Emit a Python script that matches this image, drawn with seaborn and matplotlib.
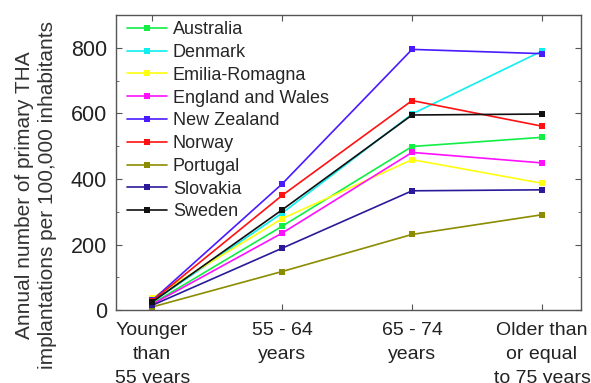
import matplotlib
matplotlib.use("Agg")
import matplotlib.pyplot as plt
from matplotlib.ticker import MultipleLocator
import seaborn as sns
import pandas as pd

age_groups = ["Younger\nthan\n55 years", "55 - 64\nyears", "65 - 74\nyears",
              "Older than\nor equal\nto 75 years"]
countries = ["Australia", "Denmark", "Emilia-Romagna", "England and Wales",
             "New Zealand", "Norway", "Portugal", "Slovakia", "Sweden"]

australia = [20, 256, 499, 527]
denmark = [25, 296, 598, 790]
emilia_romagna = [38, 279, 459, 387]
england_wales = [18, 235, 481, 449]
new_zealand = [30, 385, 795, 782]
norway = [28, 350, 639, 561]
portugal = [10, 118, 231, 291]
slovakia = [15, 189, 364, 367]
sweden = [25, 306, 595, 598]

series = [australia, denmark, emilia_romagna, england_wales, new_zealand,
          norway, portugal, slovakia, sweden]

colors = ["#11ee44", "#11eeee", "#ffff11", "#ff11ff", "#4a1aff",
          "#ff1111", "#8c8c00", "#2a1a99", "#111111"]

rows = []
for name, vals in zip(countries, series):
    for i, v in enumerate(vals):
        rows.append({"age": i, "country": name, "rate": v})
df = pd.DataFrame(rows)

sns.set_style("ticks")
plt.rcParams["font.family"] = ["Liberation Sans", "DejaVu Sans"]

fig = plt.figure(figsize=(5.91, 3.83), dpi=100)
ax = fig.add_axes([0.196, 0.19, 0.787, 0.771])

sns.lineplot(data=df, x="age", y="rate", hue="country", hue_order=countries,
             palette=colors, style="country", markers=["s"] * 9, dashes=False,
             markersize=4.5, markeredgewidth=0, linewidth=1.2, ax=ax)

ax.set_xlim(-0.28, 3.3)
ax.set_ylim(0, 900)
ax.set_xticks(range(4))
ax.set_xticklabels(age_groups, fontsize=14, linespacing=1.55, color="#222222")
ax.yaxis.set_major_locator(MultipleLocator(200))
ax.yaxis.set_minor_locator(MultipleLocator(100))
ax.tick_params(axis="y", labelsize=15.5, pad=6.5, labelcolor="#222222")
ax.tick_params(axis="x", pad=8.5)
ax.tick_params(which="both", direction="in", top=True, right=True,
               color="#555555")
ax.tick_params(which="major", length=4)
ax.tick_params(which="minor", length=2.5)
ax.set_xlabel("")
ax.set_ylabel("Annual number of primary THA\nimplantations per 100,000 inhabitants",
              fontsize=15, color="#333333", linespacing=1.3)
ax.yaxis.label.set_va("center")
ax.yaxis.set_label_coords(-0.172, 0.39)
for sp in ax.spines.values():
    sp.set_color("#555555")
    sp.set_linewidth(1.0)

ax.legend(loc="upper left", frameon=False, fontsize=13, handlelength=2.2,
          labelspacing=0.32, borderaxespad=0.0, handletextpad=0.35,
          borderpad=0.1, bbox_to_anchor=(0.02, 0.985))

fig.savefig("out.png", dpi=100)
